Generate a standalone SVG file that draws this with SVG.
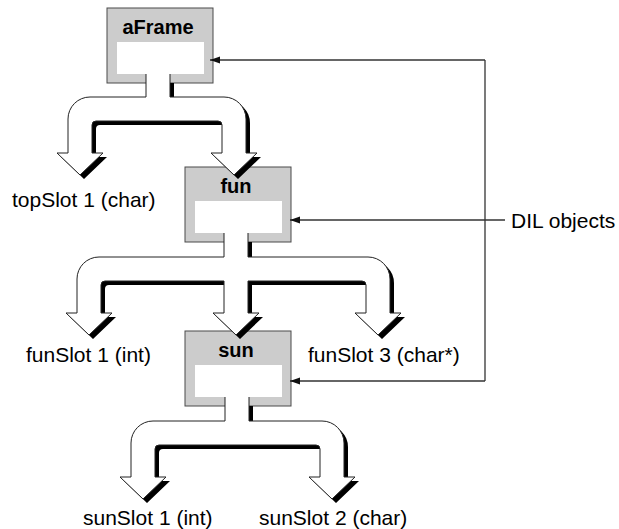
<svg xmlns="http://www.w3.org/2000/svg" width="619" height="529" viewBox="0 0 619 529">
<style>
.box{fill:#cccccc;stroke:#4a4a4a;stroke-width:1}
.inner{fill:#ffffff}
.fork{fill:#ffffff;stroke:#222;stroke-width:1}
.shadow{fill:#000}
.name{font-family:"Liberation Sans",Arial,sans-serif;font-size:20px;font-weight:bold;fill:#000;text-anchor:middle}
.lbl{font-family:"Liberation Sans",Arial,sans-serif;font-size:21px;fill:#000}
.conn{fill:none;stroke:#333;stroke-width:1.3}
</style>
<defs>
<marker id="ah" markerUnits="userSpaceOnUse" markerWidth="10" markerHeight="8" refX="10" refY="4" orient="auto">
<path d="M0,0.5 L10,4 L0,7.5 z" fill="#111"/>
</marker>
</defs>
<rect width="619" height="529" fill="#fff"/>
<g id="aFrame">
<rect class="box" x="107" y="8" width="106" height="75"/>
<rect class="inner" x="117" y="42" width="87" height="32"/>
</g>
<g id="fun">
<rect class="box" x="185" y="167" width="106" height="75"/>
<rect class="inner" x="195" y="201" width="87" height="32"/>
</g>
<g id="sun">
<rect class="box" x="185" y="331" width="106" height="75"/>
<rect class="inner" x="195" y="365" width="87" height="32"/>
</g>
<g id="connectors">
<path class="shadow" transform="translate(4,4)" d="M146,79 V97 H90 A22,22 0 0 0 68,119 V153 H57 L80,175 L103,153 H92 V125 A4,4 0 0 1 96,121 H218 A4,4 0 0 1 222,125 V153 H211 L234,175 L257,153 H246 V119 A22,22 0 0 0 224,97 H170 V79 Z"/>
<path class="fork" d="M146,74 V97 H90 A22,22 0 0 0 68,119 V153 H57 L80,175 L103,153 H92 V125 A4,4 0 0 1 96,121 H218 A4,4 0 0 1 222,125 V153 H211 L234,175 L257,153 H246 V119 A22,22 0 0 0 224,97 H170 V74"/>
<path class="shadow" transform="translate(4,4)" d="M224,238 V257 H99 A22,22 0 0 0 77,279 V313 H66 L89,335 L112,313 H101 V285 A4,4 0 0 1 105,281 H224 V313 H213 L236,335 L259,313 H248 V281 H362 A4,4 0 0 1 366,285 V313 H355 L378,335 L401,313 H390 V279 A22,22 0 0 0 368,257 H248 V238 Z"/>
<path class="fork" d="M224,233 V257 H99 A22,22 0 0 0 77,279 V313 H66 L89,335 L112,313 H101 V285 A4,4 0 0 1 105,281 H224 V313 H213 L236,335 L259,313 H248 V281 H362 A4,4 0 0 1 366,285 V313 H355 L378,335 L401,313 H390 V279 A22,22 0 0 0 368,257 H248 V233"/>
<path class="shadow" transform="translate(4,4)" d="M225,402 V421 H153 A22,22 0 0 0 131,443 V477 H120 L143,499 L166,477 H155 V449 A4,4 0 0 1 159,445 H316 A4,4 0 0 1 320,449 V477 H309 L332,499 L355,477 H344 V443 A22,22 0 0 0 322,421 H249 V402 Z"/>
<path class="fork" d="M225,397 V421 H153 A22,22 0 0 0 131,443 V477 H120 L143,499 L166,477 H155 V449 A4,4 0 0 1 159,445 H316 A4,4 0 0 1 320,449 V477 H309 L332,499 L355,477 H344 V443 A22,22 0 0 0 322,421 H249 V397"/>
<path class="conn" d="M485,60 V381"/>
<path class="conn" d="M485,60 H210" marker-end="url(#ah)"/>
<path class="conn" d="M485,381 H290" marker-end="url(#ah)"/>
<path class="conn" d="M505,220 H290" marker-end="url(#ah)"/>
</g>
<text class="name" x="158" y="34">aFrame</text>
<text class="name" x="236" y="193">fun</text>
<text class="name" x="236" y="357">sun</text>
<text class="lbl" x="12" y="207">topSlot 1 (char)</text>
<text class="lbl" x="26" y="362">funSlot 1 (int)</text>
<text class="lbl" x="308" y="362">funSlot 3 (char*)</text>
<text class="lbl" x="511" y="228">DIL objects</text>
<text class="lbl" x="83" y="525">sunSlot 1 (int)</text>
<text class="lbl" x="259" y="525">sunSlot 2 (char)</text>
</svg>
